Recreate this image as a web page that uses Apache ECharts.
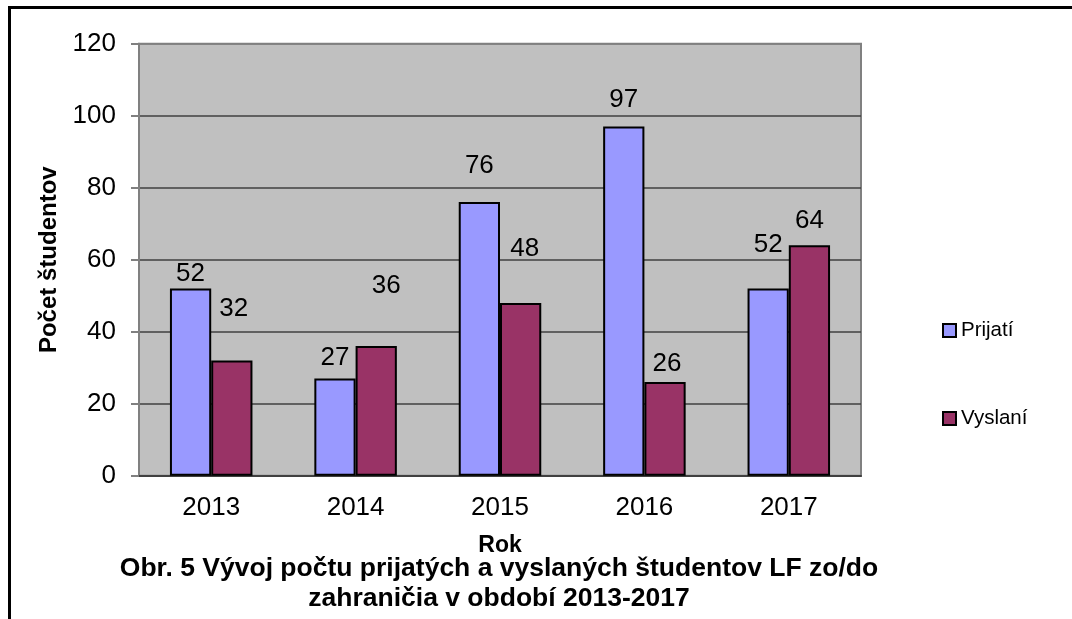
<!DOCTYPE html>
<html>
<head>
<meta charset="utf-8">
<script src="https://cdn.jsdelivr.net/npm/echarts@6/dist/echarts.min.js"></script>
<style>
html,body{margin:0;padding:0;background:#fff;}
#chart{width:1072px;height:619px;}
</style>
</head>
<body>
<div id="chart"></div>
<script>
// ---- data ----
const years = ['2013', '2014', '2015', '2016', '2017'];
const seriesNames = ['Prijatí', 'Vyslaní'];
const prijati = [52, 27, 76, 97, 52];
const vyslani = [32, 36, 48, 26, 64];
const yTicks = [0, 20, 40, 60, 80, 100, 120];

// ---- layout of the manually moved data labels (pixel shifts) ----
const prijatiLabelShift = [[0, 0], [0, -6], [0, -22], [0, -12], [0, -29]];
const vyslaniLabelShift = [[2, -37], [10, -46], [4, -40], [2, -4], [0, -10]];

const FONT = '"Liberation Sans", Arial, sans-serif';

function withLabels(values, shifts) {
  return values.map((v, i) => ({ value: v, label: { offset: shifts[i] } }));
}

const chart = echarts.init(document.getElementById('chart'));
chart.setOption({
  backgroundColor: '#ffffff',
  textStyle: { fontFamily: FONT },
  animation: false,
  graphic: [{
    type: 'rect',
    shape: { x: 9.5, y: 7.5, width: 1200, height: 800 },
    style: { fill: 'none', stroke: '#000', lineWidth: 3 },
    silent: true
  }],
  title: {
    text: 'Obr. 5 Vývoj počtu prijatých a vyslaných študentov LF zo/do\nzahraničia v období 2013-2017',
    left: 494,
    top: 549,
    textAlign: 'center',
    textStyle: { fontFamily: FONT, fontSize: 26.5, fontWeight: 'bold', color: '#000', lineHeight: 29.5 }
  },
  legend: {
    orient: 'vertical',
    left: 937,
    top: 315,
    itemWidth: 13,
    itemHeight: 13,
    itemGap: 67,
    icon: 'rect',
    data: seriesNames,
    textStyle: { fontFamily: FONT, fontSize: 20.5, color: '#000' }
  },
  grid: {
    left: 139, right: 211, top: 43.7, bottom: 143.3,
    show: true, backgroundColor: '#C0C0C0', borderColor: '#808080', borderWidth: 2
  },
  xAxis: {
    type: 'category',
    data: years,
    name: 'Rok',
    nameLocation: 'middle',
    nameGap: 58,
    nameTextStyle: { fontFamily: FONT, fontSize: 23, fontWeight: 'bold', color: '#000' },
    axisTick: { show: false },
    axisLine: { lineStyle: { color: '#404040', width: 2 } },
    axisLabel: { fontFamily: FONT, fontSize: 26, color: '#000', margin: 19 }
  },
  yAxis: {
    type: 'value',
    min: yTicks[0],
    max: yTicks[yTicks.length - 1],
    interval: yTicks[1] - yTicks[0],
    name: 'Počet študentov',
    nameLocation: 'middle',
    nameRotate: 90,
    nameGap: 76,
    nameTextStyle: { fontFamily: FONT, fontSize: 24, fontWeight: 'bold', color: '#000' },
    axisLine: { show: true, lineStyle: { color: '#808080', width: 2 } },
    axisTick: { show: true, length: 8, lineStyle: { color: '#808080', width: 2 } },
    axisLabel: { fontFamily: FONT, fontSize: 26, color: '#000', margin: 23 },
    splitLine: { show: true, lineStyle: { color: ['#404040', '#404040', '#404040', '#404040', '#404040', '#404040', '#808080'], width: 1.5 } }
  },
  series: [{
    name: seriesNames[0],
    type: 'bar',
    data: withLabels(prijati, prijatiLabelShift),
    barGap: '0%',
    barCategoryGap: '42.86%',
    itemStyle: { color: '#9999FF', borderColor: '#000', borderWidth: 2 },
    label: { show: true, position: 'top', distance: 1.5, fontFamily: FONT, fontSize: 26, color: '#000' }
  }, {
    name: seriesNames[1],
    type: 'bar',
    data: withLabels(vyslani, vyslaniLabelShift),
    barGap: '0%',
    barCategoryGap: '42.86%',
    itemStyle: { color: '#993366', borderColor: '#000', borderWidth: 2 },
    label: { show: true, position: 'top', distance: 1.5, fontFamily: FONT, fontSize: 26, color: '#000' }
  }]
});
</script>
</body>
</html>
